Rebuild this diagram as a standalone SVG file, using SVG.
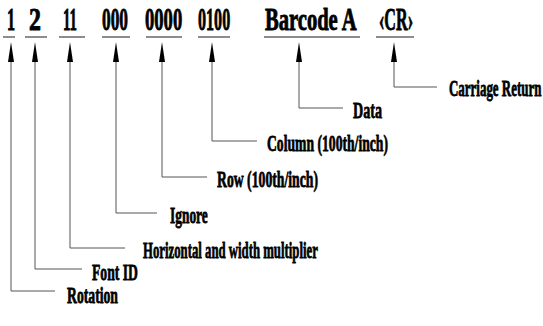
<svg xmlns="http://www.w3.org/2000/svg" width="543" height="326" viewBox="0 0 543 326">
<style>
.t{font-family:"Liberation Serif","Times New Roman",serif;font-weight:bold;fill:#000;stroke:#000}
.top{font-size:31px;stroke-width:0.9}
.lab{font-size:24px;stroke-width:0.8}
.ul{stroke:#666;stroke-width:1.5;fill:none}
.cn{stroke:#555;stroke-width:1;fill:none}
.ah{fill:#000;stroke:none}
</style>
<rect width="543" height="326" fill="#fff"/>
<g id="fields">
<g id="f-rotation"><text class="t top" transform="matrix(0.52 0 0 1 7 30)">1</text><line class="ul" x1="3" y1="37" x2="15" y2="37"/></g>
<g id="f-font"><text class="t top" transform="matrix(0.77 0 0 1 29 30)">2</text><line class="ul" x1="25" y1="37" x2="47" y2="37"/></g>
<g id="f-mult"><text class="t top" transform="matrix(0.48 0 0 1 63 30)">11</text><line class="ul" x1="59" y1="37" x2="85" y2="37"/></g>
<g id="f-ignore"><text class="t top" transform="matrix(0.56 0 0 1 102 30)">000</text><line class="ul" x1="102" y1="37" x2="130" y2="37"/></g>
<g id="f-row"><text class="t top" transform="matrix(0.6 0 0 1 145 30)">0000</text><line class="ul" x1="146" y1="37" x2="182" y2="37"/></g>
<g id="f-col"><text class="t top" transform="matrix(0.52 0 0 1 198 30)">0100</text><line class="ul" x1="198" y1="37" x2="230" y2="37"/></g>
<g id="f-data"><text class="t top" transform="matrix(0.664 0 0 1 265 30)">Barcode A</text><line class="ul" x1="264" y1="37" x2="360" y2="37"/></g>
<g id="f-cr"><text class="t top" transform="matrix(0.52 0 0 1 379 30)">‹CR›</text><line class="ul" x1="376" y1="37" x2="414" y2="37"/></g>
</g>
<g id="connectors">
<path class="cn" d="M11 62V291H55"/>
<path class="cn" d="M35 62V269H82"/>
<path class="cn" d="M70 62V248H125"/>
<path class="cn" d="M116 62V213H157"/>
<path class="cn" d="M162 62V177H207"/>
<path class="cn" d="M212 62V141H257"/>
<path class="cn" d="M299 62V108H343"/>
<path class="cn" d="M394 62V87H437"/>
<polygon class="ah" points="11,42 14,62 8,62"/>
<polygon class="ah" points="35,42 38,62 32,62"/>
<polygon class="ah" points="70,42 73,62 67,62"/>
<polygon class="ah" points="116,42 119,62 113,62"/>
<polygon class="ah" points="162,42 165,62 159,62"/>
<polygon class="ah" points="212,42 215,62 209,62"/>
<polygon class="ah" points="299,42 302,62 296,62"/>
<polygon class="ah" points="394,42 397,62 391,62"/>
</g>
<g id="labels">
<g id="l-rotation"><text class="t lab" transform="matrix(0.571 0 0 1 67 303)">Rotation</text></g>
<g id="l-font"><text class="t lab" transform="matrix(0.57 0 0 1 92 280)">Font ID</text></g>
<g id="l-mult"><text class="t lab" transform="matrix(0.532 0 0 1 143 258)">Horizontal and width multiplier</text></g>
<g id="l-ignore"><text class="t lab" transform="matrix(0.559 0 0 1 170 223)">Ignore</text></g>
<g id="l-row"><text class="t lab" transform="matrix(0.572 0 0 1 217 187)">Row (100th/inch)</text></g>
<g id="l-col"><text class="t lab" transform="matrix(0.569 0 0 1 267 151)">Column (100th/inch)</text></g>
<g id="l-data"><text class="t lab" transform="matrix(0.588 0 0 1 353 118)">Data</text></g>
<g id="l-cr"><text class="t lab" transform="matrix(0.54 0 0 1 449 96)">Carriage Return</text></g>
</g>
</svg>
